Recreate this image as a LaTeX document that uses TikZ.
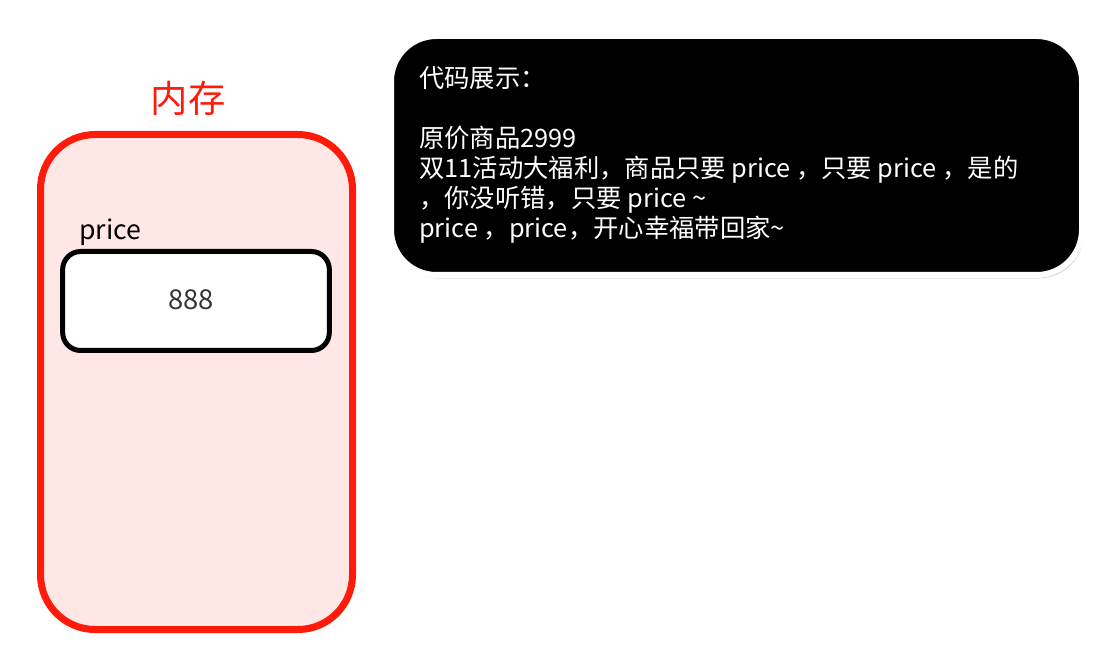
\documentclass[tikz,border=0pt]{standalone}
\usepackage{fontspec}
\setmainfont{Noto Sans CJK SC}
\usepackage{xcolor}
\usetikzlibrary{positioning,shadows}

\definecolor{memred}{HTML}{FF1A0A}
\definecolor{memfill}{HTML}{FFE7E5}
\definecolor{valgray}{HTML}{333333}

\begin{document}
\begin{tikzpicture}[
  x=0.75pt, y=-0.75pt,
  membox/.style={draw=memred, fill=memfill, line width=5.25pt, rounded corners=41pt,
                 minimum width=234pt, minimum height=371.25pt, inner sep=0pt,
                 drop shadow={shadow xshift=1.5pt, shadow yshift=-2.5pt, opacity=0.3, fill=gray}},
  varbox/.style={draw=black, fill=white, line width=3.75pt, rounded corners=13.5pt,
                 minimum width=200pt, minimum height=74.25pt, inner sep=0pt,
                 font=\fontsize{20.5}{24}\selectfont, text=valgray},
  codebox/.style={draw=white, fill=black, line width=4.5pt, rounded corners=34pt,
                  minimum width=518.25pt, minimum height=179.25pt, inner sep=0pt,
                  drop shadow={shadow xshift=1.5pt, shadow yshift=-2.5pt, opacity=0.4, fill=gray}},
  codetext/.style={text=white, align=left, inner sep=0pt,
                   font=\fontsize{19}{22.5}\selectfont}
]
  \useasboundingbox[fill=white] (0,0) rectangle (1093,652);
  % memory panel
  \node[membox] (mem) at (196.5,382) {};
  \node[text=memred, font=\fontsize{28}{32}\selectfont] (title) at (188,98) {内存};
  \node[varbox] (var) at (196,301) {};
  \node[text=valgray, font=\fontsize{20.5}{24}\selectfont] (val) at (191,300) {888};
  \node[anchor=base west, inner sep=0pt, font=\fontsize{20}{24}\selectfont] (name) at (79,240) {price};
  % code panel
  \node[codebox] (code) at (736.5,155.5) {};
  \node[codetext, anchor=north west] (txt) at (419,66) {代码展示：\\[22.5pt]
    原价商品2999\\
    双11活动大福利，商品只要 price ，只要 price ，是的\\
    ，你没听错，只要 price \textasciitilde\\
    price ，price，开心幸福带回家\textasciitilde};
\end{tikzpicture}
\end{document}
